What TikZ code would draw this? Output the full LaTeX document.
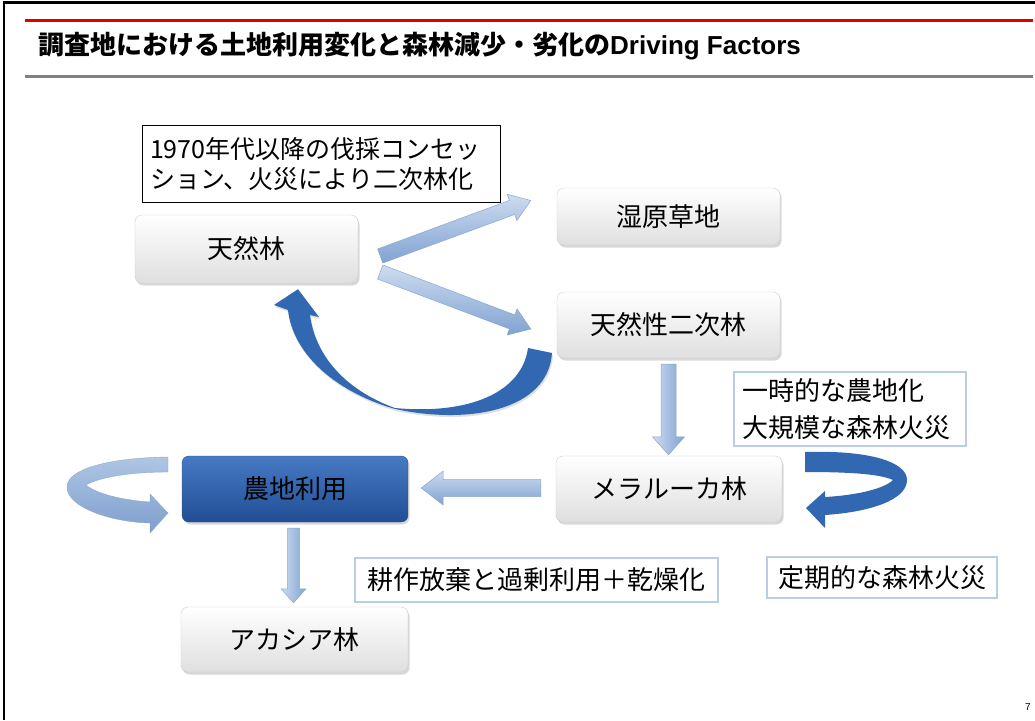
\documentclass[tikz,border=0pt]{standalone}
\usepackage{fontspec}
\newfontfamily\jp{Noto Sans CJK JP}
\newfontfamily\lat{Liberation Sans}
\usetikzlibrary{calc,shadows}
\definecolor{darkblue}{RGB}{50,104,178}
\definecolor{lbtop}{RGB}{205,220,240}
\definecolor{lbbot}{RGB}{128,162,210}
\definecolor{lbedge}{RGB}{140,168,205}
\definecolor{utop}{RGB}{175,198,228}
\definecolor{ubot}{RGB}{125,158,205}
\definecolor{notebd}{RGB}{185,205,229}
\definecolor{redline}{RGB}{225,0,0}
\definecolor{nbtop}{RGB}{70,122,196}
\definecolor{nbbot}{RGB}{33,78,148}
\definecolor{nbedge}{RGB}{40,75,135}
\tikzset{
  box/.style={draw=gray!40, rounded corners=7pt, top color=white, bottom color=gray!25,
    drop shadow={opacity=0.3, shadow xshift=1.5pt, shadow yshift=-2.5pt},
    inner sep=0pt, font=\jp\fontsize{26}{31}\selectfont},
  bluebox/.style={box, draw=nbedge, top color=nbtop, bottom color=nbbot},
  note/.style={draw=notebd, line width=1.2pt, inner sep=0pt, font=\jp\fontsize{26}{37}\selectfont, align=left},
  harrow/.style={draw=lbedge, line width=0.5pt, top color=lbtop, bottom color=lbbot},
  varrow/.style={draw=lbedge, line width=0.5pt, left color=lbtop, right color=lbbot},
}
% block arrow: from, to, shaft half width, head half width, head length, style
\newcommand\barrow[6]{%
  \path[#6] let \p1=($(#2)-(#1)$), \n1={atan2(\y1,\x1)} in
   ($(#1)+(\n1+90:#3pt)$) -- ($(#2)+(\n1+180:#5pt)+(\n1+90:#3pt)$)
   -- ($(#2)+(\n1+180:#5pt)+(\n1+90:#4pt)$) -- (#2)
   -- ($(#2)+(\n1+180:#5pt)+(\n1-90:#4pt)$) -- ($(#2)+(\n1+180:#5pt)+(\n1-90:#3pt)$)
   -- ($(#1)+(\n1-90:#3pt)$) -- cycle;}
\begin{document}
\begin{tikzpicture}[x=1pt,y=-1pt]
\useasboundingbox (0,0) rectangle (1035,720);
\fill[white] (0,0) rectangle (1035,720);
% frame and rules
\draw[line width=2.5pt] (4,720) -- (4,2.5) -- (1035,2.5);
\draw[redline, line width=3pt] (25,20) -- (1033,20);
\draw[gray, line width=3pt] (25,76) -- (1033,76);
\node[anchor=west, inner sep=0pt] (title) at (38,46)
  {\jp\bfseries\fontsize{26}{30}\selectfont 調査地における土地利用変化と森林減少・劣化の{\lat\bfseries Driving Factors}};
\node[inner sep=0pt] (page) at (1028,707) {\lat\fontsize{10}{12}\selectfont 7};

% boxes
\node[box, minimum width=223pt, minimum height=68pt] (tennen) at (246.5,249) {天然林};
\node[box, minimum width=223pt, minimum height=57pt] (shitsu) at (668.5,216.5) {湿原草地};
\node[box, minimum width=223pt, minimum height=66pt] (niji) at (668.5,325) {天然性二次林};
\node[box, minimum width=226pt, minimum height=66pt] (mela) at (669,489) {メラルーカ林};
\node[bluebox, minimum width=226pt, minimum height=66pt] (nochi) at (295,489) {農地利用};
\node[box, minimum width=227pt, minimum height=65pt] (acacia) at (294.5,639.5) {アカシア林};

% notes
\node[draw=black, line width=0.8pt, fill=white, inner sep=0pt, minimum width=358pt, minimum height=77pt,
  font=\jp\fontsize{25}{30}\selectfont, align=left] (n1970) at (321,163.5)
  {\makebox[342pt][l]{1970年代以降の伐採コンセッ}\\\makebox[342pt][l]{ション、火災により二次林化}};
\node[note, minimum width=232pt, minimum height=74pt] (nfire1) at (850,409)
  {\makebox[216pt][l]{一時的な農地化}\\\makebox[216pt][l]{大規模な森林火災}};
\node[note, minimum width=230pt, minimum height=41pt] (nfire2) at (882,577.5) {定期的な森林火災};
\node[note, minimum width=363pt, minimum height=44pt] (nabandon) at (536.5,580) {耕作放棄と過剰利用＋乾燥化};

% straight block arrows
\coordinate (a1s) at ($(tennen.east)+(22,7)$);
\coordinate (a1e) at ($(shitsu.west)+(-26,-16)$);
\coordinate (a2s) at ($(tennen.east)+(22,23)$);
\coordinate (a2e) at ($(niji.west)+(-26,4)$);
\coordinate (a3s) at ($(niji.south)+(0,6)$);
\coordinate (a3e) at ($(mela.north)+(-0.5,-1)$);
\coordinate (a4s) at ($(mela.west)+(-15,-1)$);
\coordinate (a4e) at ($(nochi.east)+(13,-1)$);
\coordinate (a5s) at ($(nochi.south)+(-1.5,6)$);
\coordinate (a5e) at ($(acacia.north)+(-1,-4)$);
\barrow{a1s}{a1e}{7.5}{14}{20}{harrow}
\barrow{a2s}{a2e}{7.5}{14}{20}{harrow}
\barrow{a3s}{a3e}{7.5}{16}{18}{varrow}
\barrow{a4s}{a4e}{8.5}{17}{22}{harrow}
\barrow{a5s}{a5e}{6}{12.5}{14}{varrow}

% big curved return arrow (niji -> tennen)
\coordinate (c1e) at ($(tennen.south)+(51.5,6)$);
\fill[darkblue, drop shadow={opacity=0.25, shadow xshift=1pt, shadow yshift=-2pt}]
  (528,348) -- (552,353) .. controls (548,410) and (470,425) .. (395,409)
  .. controls (330,390) and (292,350) .. (288,310) -- (274,305) -- (c1e) -- (319,317) -- (310,315)
  .. controls (315,355) and (345,390) .. (395,408)
  .. controls (470,415) and (522,392) .. (528,348) -- cycle;

% left U-turn arrow (farmland self loop)
\path[draw=lbedge, line width=0.4pt, top color=utop, bottom color=ubot]
  (168,457) .. controls (105,458) and (67,470) .. (67,487)
  .. controls (67,507) and (110,522) .. (150,523) -- (150,533) -- (168,513) -- (150,494) -- (150,502)
  .. controls (120,500) and (95,493) .. (86,485)
  .. controls (100,477) and (130,472) .. (168,472) -- cycle;

% right U-turn arrow (melaleuca self loop)
\fill[darkblue]
  (805,452) .. controls (870,450) and (907,462) .. (907,480)
  .. controls (907,500) and (870,512) .. (825,515) -- (825,528) -- (806,508) -- (825,491) -- (825,497)
  .. controls (860,495) and (885,488) .. (893,480)
  .. controls (880,474) and (850,472) .. (805,472) -- cycle;
\end{tikzpicture}
\end{document}
